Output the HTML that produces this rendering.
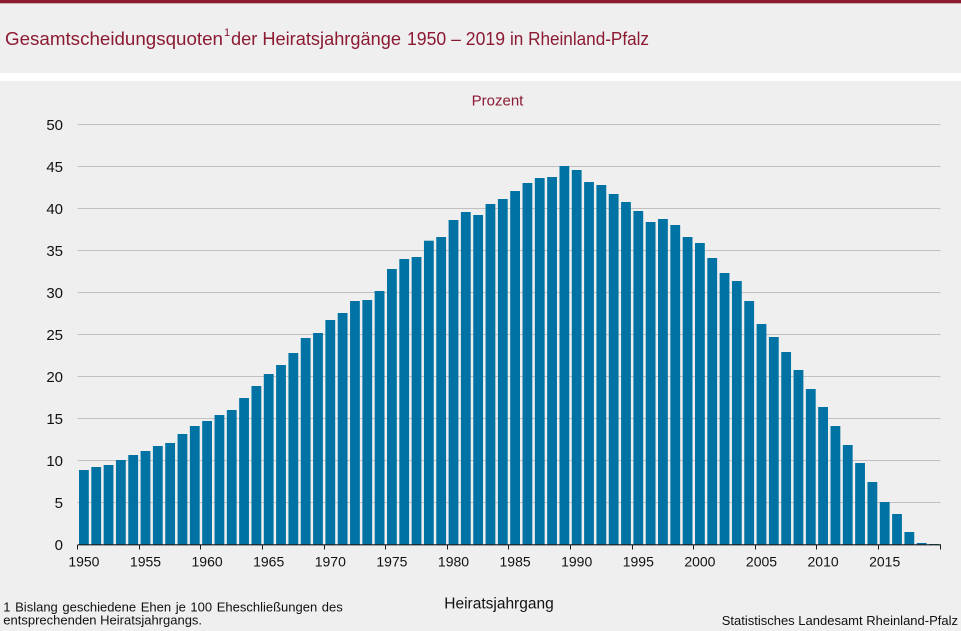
<!DOCTYPE html>
<html><head><meta charset="utf-8"><style>
html,body{margin:0;padding:0;background:#eeefee;}
svg{display:block;font-family:"Liberation Sans",Arial,sans-serif;}
</style></head><body>
<svg width="961" height="631" viewBox="0 0 961 631" xmlns="http://www.w3.org/2000/svg">
<rect x="0" y="0" width="961" height="631" fill="#eeefee"/>
<rect x="0" y="0" width="961" height="3.3" fill="#8a1b31"/>
<rect x="0" y="73" width="961" height="8" fill="#ffffff"/>
<g fill="#8c1a33" font-size="18">
<text x="5" y="45" textLength="218" lengthAdjust="spacingAndGlyphs">Gesamtscheidungsquoten</text>
<text x="224" y="36" font-size="11">1</text>
<text x="231" y="45" textLength="170" lengthAdjust="spacingAndGlyphs">der Heiratsjahrgänge</text>
<text x="407" y="45" textLength="98" lengthAdjust="spacingAndGlyphs">1950 – 2019</text>
<text x="510" y="45" textLength="139" lengthAdjust="spacingAndGlyphs">in Rheinland-Pfalz</text>
</g>
<text x="497.5" y="105.7" font-size="15" fill="#8c1a33" text-anchor="middle">Prozent</text>
<g stroke="#c0c0c0" stroke-width="1">
<line x1="77.5" x2="940.5" y1="124.5" y2="124.5"/>
<line x1="77.5" x2="940.5" y1="166.5" y2="166.5"/>
<line x1="77.5" x2="940.5" y1="208.5" y2="208.5"/>
<line x1="77.5" x2="940.5" y1="250.5" y2="250.5"/>
<line x1="77.5" x2="940.5" y1="292.5" y2="292.5"/>
<line x1="77.5" x2="940.5" y1="334.5" y2="334.5"/>
<line x1="77.5" x2="940.5" y1="376.5" y2="376.5"/>
<line x1="77.5" x2="940.5" y1="418.5" y2="418.5"/>
<line x1="77.5" x2="940.5" y1="460.5" y2="460.5"/>
<line x1="77.5" x2="940.5" y1="502.5" y2="502.5"/>
</g>
<g fill="#111" font-size="15" text-anchor="end">
<text x="63" y="129.8">50</text>
<text x="63" y="171.8">45</text>
<text x="63" y="213.8">40</text>
<text x="63" y="255.8">35</text>
<text x="63" y="297.8">30</text>
<text x="63" y="339.8">25</text>
<text x="63" y="381.8">20</text>
<text x="63" y="423.8">15</text>
<text x="63" y="465.8">10</text>
<text x="63" y="507.8">5</text>
<text x="63" y="549.8">0</text>
</g>
<g fill="#0072a3">
<rect x="79.00" y="470" width="9.8" height="75"/>
<rect x="91.32" y="467" width="9.8" height="78"/>
<rect x="103.64" y="465" width="9.8" height="80"/>
<rect x="115.96" y="460" width="9.8" height="85"/>
<rect x="128.28" y="455" width="9.8" height="90"/>
<rect x="140.60" y="451" width="9.8" height="94"/>
<rect x="152.92" y="446" width="9.8" height="99"/>
<rect x="165.24" y="443" width="9.8" height="102"/>
<rect x="177.56" y="434" width="9.8" height="111"/>
<rect x="189.88" y="426" width="9.8" height="119"/>
<rect x="202.20" y="421" width="9.8" height="124"/>
<rect x="214.52" y="415" width="9.8" height="130"/>
<rect x="226.84" y="410" width="9.8" height="135"/>
<rect x="239.16" y="398" width="9.8" height="147"/>
<rect x="251.48" y="386" width="9.8" height="159"/>
<rect x="263.80" y="374" width="9.8" height="171"/>
<rect x="276.12" y="365" width="9.8" height="180"/>
<rect x="288.44" y="353" width="9.8" height="192"/>
<rect x="300.76" y="338" width="9.8" height="207"/>
<rect x="313.08" y="333" width="9.8" height="212"/>
<rect x="325.40" y="320" width="9.8" height="225"/>
<rect x="337.72" y="313" width="9.8" height="232"/>
<rect x="350.04" y="301" width="9.8" height="244"/>
<rect x="362.36" y="300" width="9.8" height="245"/>
<rect x="374.68" y="291" width="9.8" height="254"/>
<rect x="387.00" y="269" width="9.8" height="276"/>
<rect x="399.32" y="259" width="9.8" height="286"/>
<rect x="411.64" y="257" width="9.8" height="288"/>
<rect x="423.96" y="240.7" width="9.8" height="304.3"/>
<rect x="436.28" y="237" width="9.8" height="308"/>
<rect x="448.60" y="220" width="9.8" height="325"/>
<rect x="460.92" y="212" width="9.8" height="333"/>
<rect x="473.24" y="215" width="9.8" height="330"/>
<rect x="485.56" y="204" width="9.8" height="341"/>
<rect x="497.88" y="199" width="9.8" height="346"/>
<rect x="510.20" y="191" width="9.8" height="354"/>
<rect x="522.52" y="183" width="9.8" height="362"/>
<rect x="534.84" y="178" width="9.8" height="367"/>
<rect x="547.16" y="177" width="9.8" height="368"/>
<rect x="559.48" y="166" width="9.8" height="379"/>
<rect x="571.80" y="170" width="9.8" height="375"/>
<rect x="584.12" y="182" width="9.8" height="363"/>
<rect x="596.44" y="185" width="9.8" height="360"/>
<rect x="608.76" y="194" width="9.8" height="351"/>
<rect x="621.08" y="202" width="9.8" height="343"/>
<rect x="633.40" y="211" width="9.8" height="334"/>
<rect x="645.72" y="222" width="9.8" height="323"/>
<rect x="658.04" y="219" width="9.8" height="326"/>
<rect x="670.36" y="225" width="9.8" height="320"/>
<rect x="682.68" y="237" width="9.8" height="308"/>
<rect x="695.00" y="243" width="9.8" height="302"/>
<rect x="707.32" y="258" width="9.8" height="287"/>
<rect x="719.64" y="273" width="9.8" height="272"/>
<rect x="731.96" y="281" width="9.8" height="264"/>
<rect x="744.28" y="301" width="9.8" height="244"/>
<rect x="756.60" y="324" width="9.8" height="221"/>
<rect x="768.92" y="337" width="9.8" height="208"/>
<rect x="781.24" y="352" width="9.8" height="193"/>
<rect x="793.56" y="370" width="9.8" height="175"/>
<rect x="805.88" y="389" width="9.8" height="156"/>
<rect x="818.20" y="407" width="9.8" height="138"/>
<rect x="830.52" y="426" width="9.8" height="119"/>
<rect x="842.84" y="445" width="9.8" height="100"/>
<rect x="855.16" y="463" width="9.8" height="82"/>
<rect x="867.48" y="482" width="9.8" height="63"/>
<rect x="879.80" y="502" width="9.8" height="43"/>
<rect x="892.12" y="514" width="9.8" height="31"/>
<rect x="904.44" y="532" width="9.8" height="13"/>
<rect x="916.76" y="543" width="9.8" height="2"/>
<rect x="929.08" y="544" width="9.8" height="1"/>
</g>
<line x1="77.5" x2="941" y1="544.8" y2="544.8" stroke="#1a1a1a" stroke-width="1.2"/>
<g stroke="#1a1a1a" stroke-width="1">
<line x1="77.5" x2="77.5" y1="545" y2="549.5"/>
<line x1="139.5" x2="139.5" y1="545" y2="549.5"/>
<line x1="200.5" x2="200.5" y1="545" y2="549.5"/>
<line x1="262.5" x2="262.5" y1="545" y2="549.5"/>
<line x1="324.5" x2="324.5" y1="545" y2="549.5"/>
<line x1="385.5" x2="385.5" y1="545" y2="549.5"/>
<line x1="447.5" x2="447.5" y1="545" y2="549.5"/>
<line x1="508.5" x2="508.5" y1="545" y2="549.5"/>
<line x1="570.5" x2="570.5" y1="545" y2="549.5"/>
<line x1="632.5" x2="632.5" y1="545" y2="549.5"/>
<line x1="693.5" x2="693.5" y1="545" y2="549.5"/>
<line x1="755.5" x2="755.5" y1="545" y2="549.5"/>
<line x1="816.5" x2="816.5" y1="545" y2="549.5"/>
<line x1="878.5" x2="878.5" y1="545" y2="549.5"/>
<line x1="940.5" x2="940.5" y1="545" y2="549.5"/>
</g>
<g fill="#111" font-size="14" text-anchor="middle">
<text x="83.9" y="566.7">1950</text>
<text x="145.5" y="566.7">1955</text>
<text x="207.1" y="566.7">1960</text>
<text x="268.7" y="566.7">1965</text>
<text x="330.3" y="566.7">1970</text>
<text x="391.9" y="566.7">1975</text>
<text x="453.5" y="566.7">1980</text>
<text x="515.1" y="566.7">1985</text>
<text x="576.7" y="566.7">1990</text>
<text x="638.3" y="566.7">1995</text>
<text x="699.9" y="566.7">2000</text>
<text x="761.5" y="566.7">2005</text>
<text x="823.1" y="566.7">2010</text>
<text x="884.7" y="566.7">2015</text>
</g>
<text x="499" y="608.3" font-size="15.5" fill="#111" text-anchor="middle">Heiratsjahrgang</text>
<g fill="#111" font-size="13">
<text x="3.3" y="611.7" word-spacing="1">1 Bislang geschiedene Ehen je 100 Eheschließungen des</text>
<text x="3.3" y="624.5">entsprechenden Heiratsjahrgangs.</text>
<text x="958" y="625" text-anchor="end">Statistisches Landesamt Rheinland-Pfalz</text>
</g>
</svg>
</body></html>
